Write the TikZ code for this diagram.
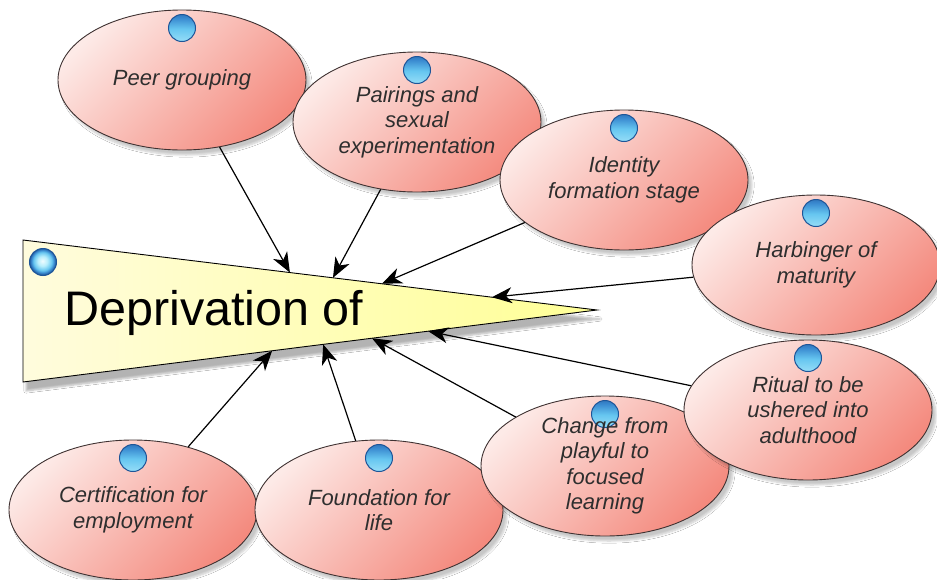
\documentclass[tikz,border=0pt]{standalone}
\usepackage{fontspec}
\setmainfont{Liberation Sans}
\usetikzlibrary{shapes.geometric,arrows.meta,shadows.blur,calc}
\definecolor{pinkA}{HTML}{FDEAE7}
\definecolor{pinkB}{HTML}{F48A7E}
\definecolor{rimC}{HTML}{3F3232}
\definecolor{ballW}{HTML}{F0FCFF}
\definecolor{ballL}{HTML}{B8EEFC}
\definecolor{ballM}{HTML}{66C6F0}
\definecolor{ballD}{HTML}{3A8AD0}
\definecolor{ballR}{HTML}{1E5598}
\definecolor{txtC}{HTML}{2E2E2E}
\definecolor{yelA}{HTML}{FFFCDD}
\definecolor{yelB}{HTML}{FFFF96}
\pgfdeclareradialshading{blueball}{\pgfpoint{-1bp}{2bp}}{color(0bp)=(ballW); color(9bp)=(ballL); color(17bp)=(ballM); color(21bp)=(ballD); color(25bp)=(ballR); color(50bp)=(ballR)}
\tikzset{
  ballmark/.style={shading=blueball, shading angle=0},
  idea/.style={ellipse, draw=rimC, line width=0.9pt, minimum width=248pt, minimum height=140pt,
    inner sep=0pt, align=center, text=txtC, font=\fontsize{22}{25.5}\selectfont\itshape,
    top color=pinkA, bottom color=pinkB, shading angle=45,
    blur shadow={shadow xshift=4pt, shadow yshift=-5pt, shadow opacity=22, shadow blur steps=6},
    path picture={
      \shade[ballmark] ([yshift=52pt]path picture bounding box.center) circle (13.5pt);
      \draw[ballR, line width=1pt] ([yshift=52pt]path picture bounding box.center) circle (13.5pt);
    }},
  conn/.style={draw=black, line width=1.2pt, arrows={-Stealth[length=20pt, width=16pt, inset=6pt]}},
}
\begin{document}
\begin{tikzpicture}[x=1pt,y=-1pt]
\useasboundingbox (0,0) rectangle (937,579);
\fill[white] (0,0) rectangle (937,579);

% idea nodes
\node[idea] (peer) at (182,80) {Peer grouping};
\node[idea] (pair) at (417,122) {Pairings and\\sexual\\experimentation};
\node[idea] (iden) at (624,180) {Identity\\formation stage};
\node[idea] (harb) at (816,265) {Harbinger of\\maturity};
\node[idea] (cert) at (133,510) {Certification for\\employment};
\node[idea] (foun) at (379,510) {Foundation for\\life};
\node[idea] (chan) at (605,466) {Change from\\playful to\\focused\\learning};
\node[idea] (ritu) at (808,410) {Ritual to be\\ushered into\\adulthood};

% central triangle
\coordinate (tl) at (23,240);
\coordinate (bl) at (23,382);
\coordinate (tp) at (597,310);
\draw[black, line width=0.9pt, left color=yelA, right color=yelB,
  blur shadow={shadow xshift=3pt, shadow yshift=-9pt, shadow opacity=30, shadow blur steps=6}]
  (tl) -- (tp) -- (bl) -- cycle;
\shade[ballmark] (43,262) circle (13.5pt);
\draw[ballR, line width=1pt] (43,262) circle (13.5pt);
\node[anchor=base west, inner sep=0pt, font=\fontsize{48.5}{56}\selectfont] (dep) at (64,325) {Deprivation of};

% connectors
\draw[conn] (peer) -- ($(tl)!0.465!(tp)$);
\draw[conn] (pair) -- ($(tl)!0.540!(tp)$);
\draw[conn] (iden) -- ($(tl)!0.625!(tp)$);
\draw[conn] (harb) -- ($(tl)!0.817!(tp)$);
\draw[conn] (ritu) -- ($(bl)!0.706!(tp)$);
\draw[conn] (chan) -- ($(bl)!0.608!(tp)$);
\draw[conn] (foun) -- ($(bl)!0.523!(tp)$);
\draw[conn] (cert) -- ($(bl)!0.434!(tp)$);
\end{tikzpicture}
\end{document}
